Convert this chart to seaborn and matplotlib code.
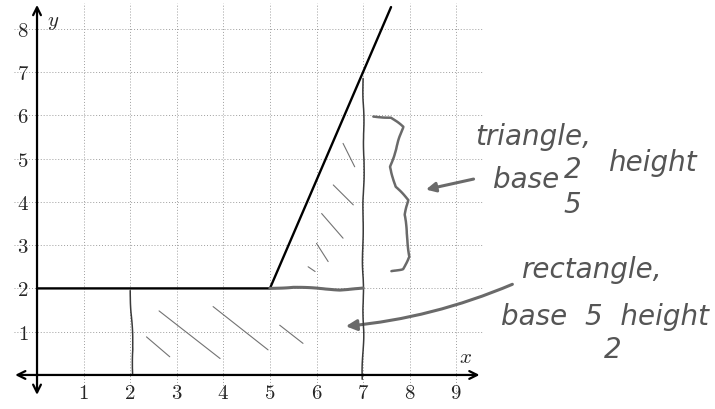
import numpy as np
import matplotlib.pyplot as plt
import seaborn as sns
from matplotlib.patches import FancyArrowPatch

# axis ticks
x_ticks = [1, 2, 3, 4, 5, 6, 7, 8, 9]
y_ticks = [1, 2, 3, 4, 5, 6, 7, 8]

# the piecewise function: flat at 2 up to x=5, then slope 2.5
curve_x = [0, 5, 7.6]
curve_y = [2, 2, 8.5]

# pencil annotations (hand drawn)
rect_side_x = [2.0, 2.03, 2.06, 2.05]
rect_side_y = [1.95, 1.3, 0.6, 0.0]
tri_side_x = [7.0, 7.02, 6.99, 7.01, 6.98]
tri_side_y = [6.85, 5.0, 3.0, 1.0, -0.1]
top_x = [5.0, 5.5, 6.0, 6.5, 7.0]
top_y = [2.0, 2.03, 2.0, 1.97, 2.0]
rect_hatch = [((2.35, 0.88), (2.85, 0.42)), ((2.62, 1.48), (3.93, 0.38)),
              ((3.78, 1.58), (4.96, 0.58)), ((5.21, 1.15), (5.71, 0.73))]
tri_hatch = [((6.57, 5.35), (6.82, 4.81)), ((6.36, 4.39), (6.79, 3.93)),
             ((6.11, 3.73), (6.57, 3.16)), ((6.0, 3.04), (6.25, 2.62)),
             ((5.82, 2.5), (5.97, 2.39))]
brace_x = [7.22, 7.6, 7.86, 7.7, 7.58, 7.7, 7.97, 7.9, 7.93, 8.0, 7.85, 7.61]
brace_y = [5.97, 5.95, 5.73, 5.2, 4.81, 4.35, 4.04, 3.7, 3.28, 2.73, 2.45, 2.39]

sns.set_style('white')
plt.rcParams['mathtext.fontset'] = 'cm'
plt.rcParams['font.family'] = ['DejaVu Sans']

fig = plt.figure(figsize=(7.15, 4.09), dpi=100)
ax = fig.add_axes([0.0192, 0.0303, 0.658, 0.963])
ax.set_xlim(-0.5, 9.6)
ax.set_ylim(-0.5, 8.6)

for s in ['top', 'right']:
    ax.spines[s].set_visible(False)
ax.spines['left'].set_position(('data', 0))
ax.spines['bottom'].set_position(('data', 0))
ax.spines['left'].set_color('none')
ax.spines['bottom'].set_color('none')

ax.set_xticks(x_ticks)
ax.set_yticks(y_ticks)
ax.set_xticklabels([f'${t}$' for t in x_ticks], fontsize=15)
ax.set_yticklabels([f'${t}$' for t in y_ticks], fontsize=15)
ax.tick_params(axis='x', length=0, pad=6)
ax.tick_params(axis='y', length=0, pad=6)
ax.grid(True, ls=(0, (1, 2)), color='0.62', lw=0.7)

# axes with arrows
ax.annotate('', xy=(9.5, 0), xytext=(-0.47, 0),
            arrowprops=dict(arrowstyle='<->', lw=1.6, color='black',
                            shrinkA=0, shrinkB=0, mutation_scale=14))
ax.annotate('', xy=(0, 8.55), xytext=(0, -0.46),
            arrowprops=dict(arrowstyle='<->', lw=1.6, color='black',
                            shrinkA=0, shrinkB=0, mutation_scale=14))
ax.text(9.2, 0.42, '$x$', fontsize=15, ha='center', va='center')
ax.text(0.35, 8.15, '$y$', fontsize=15, ha='center', va='center')

sns.lineplot(x=curve_x, y=curve_y, color='black', lw=1.7, sort=False, ax=ax)

# pencil marks
pencil = '#3a3a3a'
grey = '#6a6a6a'
for xs, ys, c, w in [(rect_side_x, rect_side_y, pencil, 1.1),
                     (tri_side_x, tri_side_y, pencil, 1.1),
                     (top_x, top_y, grey, 2.2)]:
    ln, = ax.plot(xs, ys, color=c, lw=w, clip_on=False)
    ln.set_sketch_params(0.4, 60, 2)
for (a, b) in rect_hatch + tri_hatch:
    ax.plot([a[0], b[0]], [a[1], b[1]], color='0.45', lw=0.8)
br, = ax.plot(brace_x, brace_y, color=grey, lw=1.8, clip_on=False)
br.set_sketch_params(0.5, 40, 2)

arr1 = FancyArrowPatch((9.43, 4.54), (8.29, 4.27), arrowstyle='-|>',
                       mutation_scale=14, color=grey, lw=2.2, clip_on=False)
ax.add_patch(arr1)
arr2 = FancyArrowPatch((10.26, 2.12), (6.57, 1.12), arrowstyle='-|>',
                       connectionstyle='arc3,rad=-0.08',
                       mutation_scale=16, color=grey, lw=2.2, clip_on=False)
ax.add_patch(arr2)

hand = dict(color='#555555', fontsize=20, style='italic', clip_on=False)
ax.text(9.4, 5.5, 'triangle,', ha='left', va='center', **hand)
ax.text(9.79, 4.5, 'base', ha='left', va='center', **hand)
ax.text(11.5, 4.73, '2', ha='center', va='center', **hand)
ax.text(12.25, 4.9, 'height', ha='left', va='center', **hand)
ax.text(11.5, 3.93, '5', ha='center', va='center', **hand)
ax.text(10.4, 2.42, 'rectangle,', ha='left', va='center', **hand)
ax.text(9.95, 1.34, 'base  5  height', ha='left', va='center', **hand)
ax.text(12.35, 0.58, '2', ha='center', va='center', **hand)

fig.savefig('out.png', dpi=100)
